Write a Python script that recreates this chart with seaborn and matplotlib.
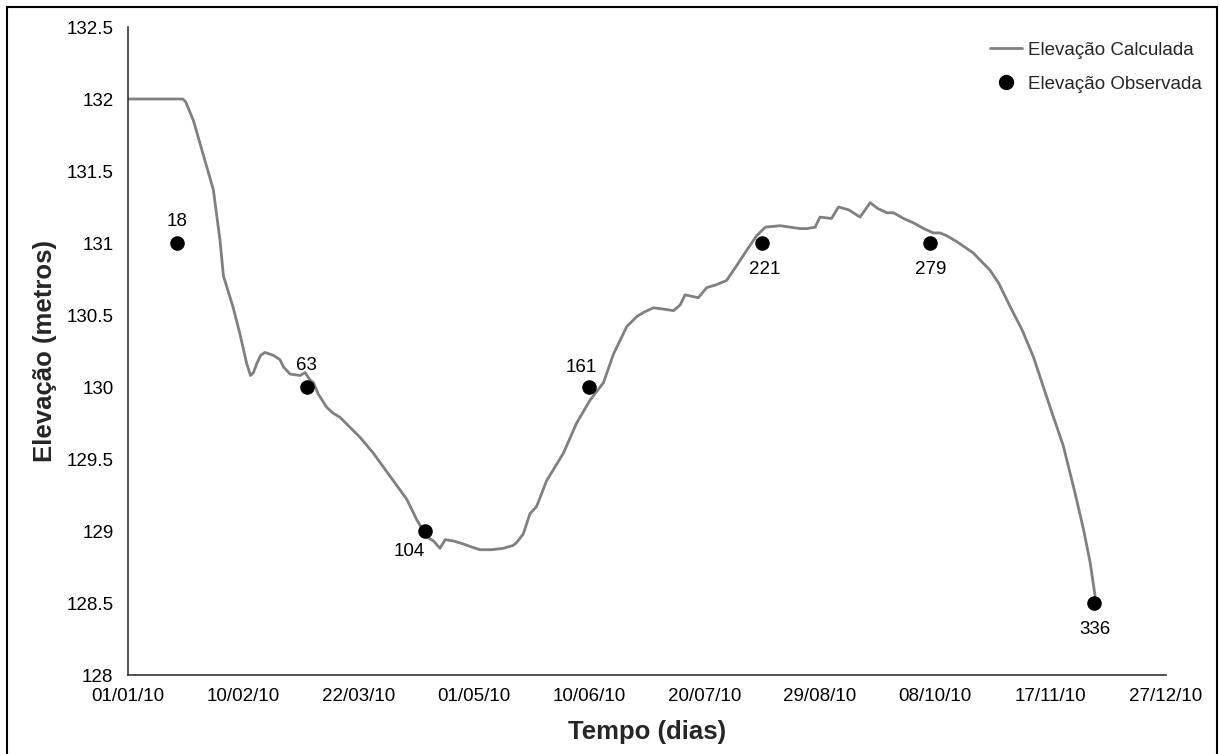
import matplotlib
matplotlib.use("Agg")
import matplotlib.pyplot as plt
import matplotlib.dates as mdates
from matplotlib.lines import Line2D
import seaborn as sns
import pandas as pd

# ---- data ----
start_date = "2010-01-01"
calc_days = [0, 19, 20, 22.7, 26, 29.6, 31.9, 33.1, 34.2, 36.5, 38.8, 41.2, 42.5, 43.5,
             44.6, 46, 47.5, 50.4, 52.7, 53.9, 56.2, 59.7, 61.4, 63.1, 64.3, 66, 68.9,
             71, 73.5, 77, 80.5, 85.1, 90.9, 96.7, 100.1, 103.6, 106, 108.2, 110, 113,
             116.3, 119, 122.1, 126, 130.2, 133.6, 134.8, 137.1, 139.4, 141.7, 145.2,
             151, 155.6, 160.3, 164.9, 168.4, 173, 176.5, 179, 182.2, 186, 189.2, 191.5,
             193.2, 197.8, 200.7, 204, 207.6, 211, 214.6, 218, 221, 226.2, 233.1, 235.4,
             238.3, 240, 244, 246.4, 250, 253.9, 257.4, 260, 263.2, 265.5, 269, 272.4,
             276, 279.3, 281.6, 284, 287.4, 293.2, 299, 302, 305.9, 310, 314, 319.8,
             324.4, 328.5, 331.4, 333.7, 335.4]
calc_elev = [132.0, 132.0, 131.98, 131.85, 131.62, 131.37, 131.02, 130.77, 130.70, 130.55,
             130.37, 130.16, 130.08, 130.10, 130.16, 130.22, 130.24, 130.22, 130.19, 130.14,
             130.09, 130.08, 130.10, 130.05, 130.03, 129.95, 129.86, 129.82, 129.79, 129.72,
             129.65, 129.54, 129.38, 129.22, 129.08, 128.96, 128.93, 128.88, 128.94, 128.93,
             128.91, 128.89, 128.87, 128.87, 128.88, 128.90, 128.92, 128.98, 129.12, 129.17,
             129.35, 129.54, 129.75, 129.91, 130.03, 130.23, 130.42, 130.49, 130.52, 130.55,
             130.54, 130.53, 130.57, 130.64, 130.62, 130.69, 130.71, 130.74, 130.84, 130.95,
             131.05, 131.11, 131.12, 131.10, 131.10, 131.11, 131.18, 131.17, 131.25, 131.23,
             131.18, 131.28, 131.24, 131.21, 131.21, 131.17, 131.14, 131.10, 131.07, 131.07,
             131.05, 131.01, 130.93, 130.81, 130.72, 130.56, 130.40, 130.21, 129.86, 129.59,
             129.26, 129.01, 128.78, 128.55]
obs_day_labels = [18, 63, 104, 161, 221, 279, 336]
obs_elev = [131.0, 130.0, 129.0, 130.0, 131.0, 131.0, 128.5]
y_ticks = [128, 128.5, 129, 129.5, 130, 130.5, 131, 131.5, 132, 132.5]
y_tick_labels = ["128", "128.5", "129", "129.5", "130", "130.5", "131", "131.5", "132", "132.5"]
x_tick_step_days = 40
n_x_ticks = 10

t0 = pd.Timestamp(start_date)
calc_df = pd.DataFrame({"Data": t0 + pd.to_timedelta(calc_days, unit="D"), "Elev": calc_elev})
obs_df = pd.DataFrame({"Data": t0 + pd.to_timedelta([d - 1 for d in obs_day_labels], unit="D"),
                       "Elev": obs_elev, "Dia": obs_day_labels})

# ---- style ----
sns.set_style("white")
plt.rcParams["font.family"] = ["Liberation Sans", "DejaVu Sans"]

fig = plt.figure(figsize=(12.2, 7.54), dpi=100)
ax = fig.add_axes([128 / 1220, 1 - 675 / 754, (1166 - 128) / 1220, (675 - 27) / 754])

line_color = "#808080"
sns.lineplot(data=calc_df, x="Data", y="Elev", ax=ax, color=line_color, linewidth=2.0,
             estimator=None, sort=False)
sns.scatterplot(data=obs_df, x="Data", y="Elev", ax=ax, color="black", s=110,
                edgecolor="black", linewidth=0, zorder=5)

# point labels
offsets = {18: (0, 21), 63: (0, 21), 104: (-16, -20), 161: (-8, 19),
           221: (2, -26), 279: (1, -26), 336: (1, -26)}
for _, r in obs_df.iterrows():
    dx, dy = offsets[int(r["Dia"])]
    ax.annotate(str(int(r["Dia"])), (r["Data"], r["Elev"]), xytext=(dx, dy),
                textcoords="offset pixels", ha="center", va="center", fontsize=13.5,
                color="black")

# axes
x_ticks = pd.date_range(t0, periods=n_x_ticks, freq=f"{x_tick_step_days}D")
ax.set_xlim(x_ticks[0], x_ticks[-1])
ax.set_xticks(x_ticks)
ax.xaxis.set_major_formatter(mdates.DateFormatter("%d/%m/%y"))
ax.set_ylim(y_ticks[0], y_ticks[-1])
ax.set_yticks(y_ticks)
ax.set_yticklabels(y_tick_labels)

for s in ["top", "right"]:
    ax.spines[s].set_visible(False)
for s in ["left", "bottom"]:
    ax.spines[s].set_color("#333333")
    ax.spines[s].set_linewidth(1.2)
ax.tick_params(axis="both", direction="inout", length=11, width=1.2, color="#333333",
               labelsize=13.5, labelcolor="black")
ax.tick_params(axis="y", pad=5)
ax.tick_params(axis="x", pad=4)

ax.set_xlabel("Tempo (dias)", fontsize=18.5, fontweight="bold", labelpad=11)
ax.set_ylabel("Elevação (metros)", fontsize=18.5, fontweight="bold", labelpad=7)

handles = [Line2D([0], [0], color=line_color, lw=2.0),
           Line2D([0], [0], marker="o", color="black", linestyle="none", markersize=10)]
ax.legend(handles, ["Elevação Calculada", "Elevação Observada"], loc="upper left",
          bbox_to_anchor=(973 / 1220, 1 - 25 / 754), bbox_transform=fig.transFigure,
          frameon=False, fontsize=13.5, handlelength=1.7, labelspacing=0.9,
          handletextpad=0.35)

# figure frame (left, top, right)
for (x0, y0, x1, y1) in [(7, 754, 7, 7), (7, 7, 1217, 7), (1217, 7, 1217, 754)]:
    fig.add_artist(Line2D([x0 / 1220, x1 / 1220], [1 - y0 / 754, 1 - y1 / 754],
                          transform=fig.transFigure, color="black", linewidth=1.5))

fig.savefig("out.png", dpi=100)
